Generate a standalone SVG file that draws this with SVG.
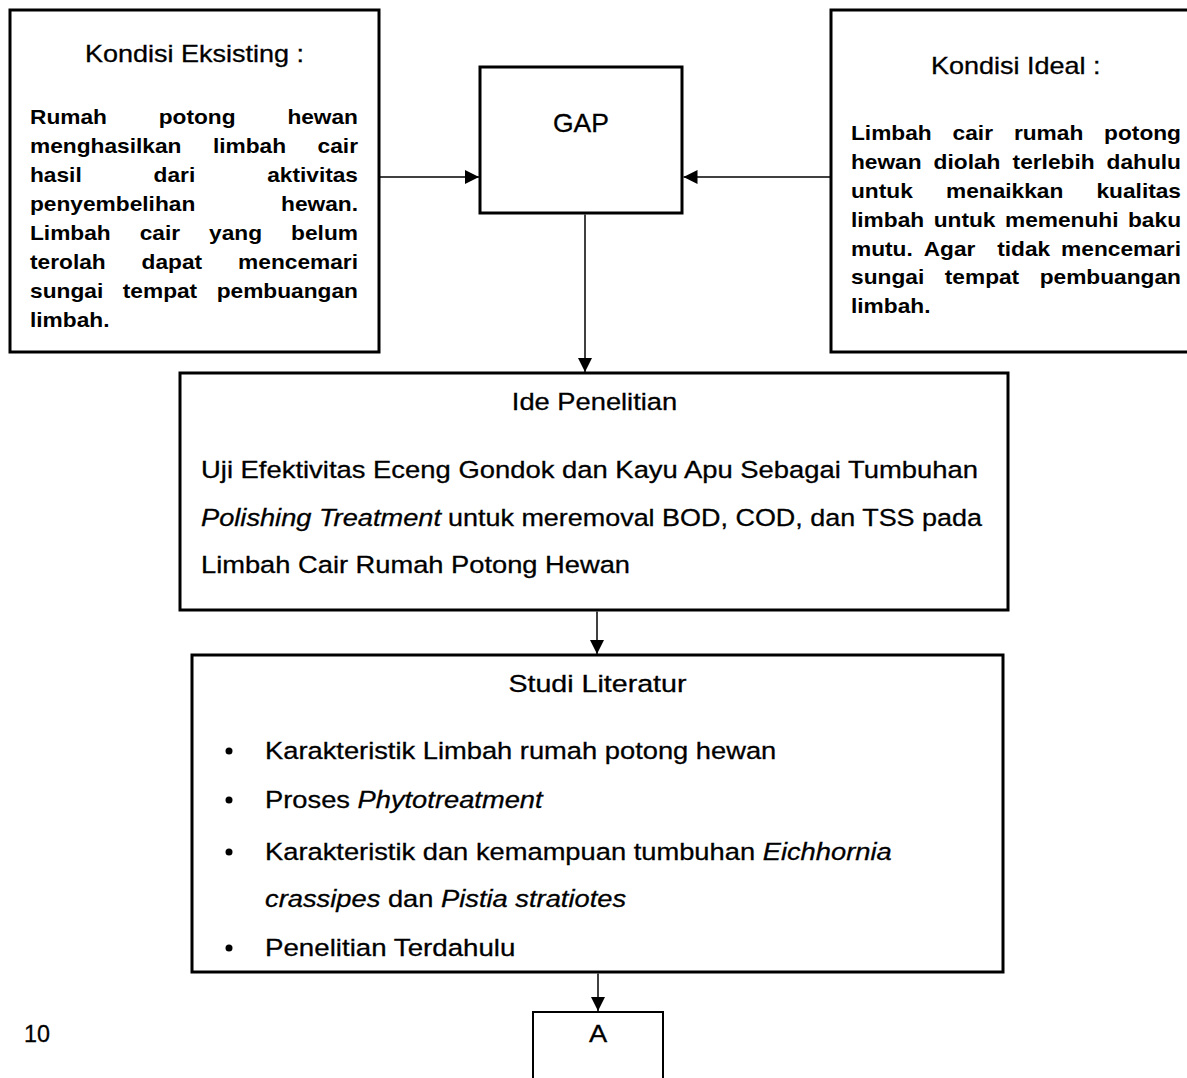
<svg xmlns="http://www.w3.org/2000/svg" width="1187" height="1078" viewBox="0 0 1187 1078">
<style>
.box{fill:#fff;stroke:#000;stroke-width:3}
.t{font-family:"Liberation Sans",Arial,sans-serif;font-size:24.5px;fill:#000;stroke:#000;stroke-width:0.3}
.h{font-size:24px}
.b{font-family:"Liberation Sans",Arial,sans-serif;font-size:21px;font-weight:bold;fill:#000}
.i{font-style:italic}
.c{stroke:#000;stroke-width:1.5;fill:none}
</style>
<defs>
<marker id="ah" viewBox="0 0 10 10" refX="10" refY="5" markerWidth="14" markerHeight="14" markerUnits="userSpaceOnUse" orient="auto">
<path d="M0,0 L10,5 L0,10 z" fill="#000"/>
</marker>
</defs>
<rect width="1187" height="1078" fill="#fff"/>

<g id="kondisi-eksisting">
<rect class="box" x="10" y="10" width="369" height="342"/>
<text class="t h" x="85" y="62" textLength="219" lengthAdjust="spacingAndGlyphs">Kondisi Eksisting :</text>
<g class="b">
<text x="30" y="124" textLength="76.9" lengthAdjust="spacingAndGlyphs">Rumah</text>
<text x="158.7" y="124" textLength="76.9" lengthAdjust="spacingAndGlyphs">potong</text>
<text x="287.4" y="124" textLength="70.6" lengthAdjust="spacingAndGlyphs">hewan</text>
<text x="30" y="153" textLength="151.4" lengthAdjust="spacingAndGlyphs">menghasilkan</text>
<text x="212.9" y="153" textLength="73.2" lengthAdjust="spacingAndGlyphs">limbah</text>
<text x="317.6" y="153" textLength="40.4" lengthAdjust="spacingAndGlyphs">cair</text>
<text x="30" y="182" textLength="51.7" lengthAdjust="spacingAndGlyphs">hasil</text>
<text x="153.6" y="182" textLength="41.6" lengthAdjust="spacingAndGlyphs">dari</text>
<text x="267.2" y="182" textLength="90.8" lengthAdjust="spacingAndGlyphs">aktivitas</text>
<text x="30" y="211" textLength="165.3" lengthAdjust="spacingAndGlyphs">penyembelihan</text>
<text x="281" y="211" textLength="77" lengthAdjust="spacingAndGlyphs">hewan.</text>
<text x="30" y="240" textLength="80.7" lengthAdjust="spacingAndGlyphs">Limbah</text>
<text x="139.7" y="240" textLength="40.4" lengthAdjust="spacingAndGlyphs">cair</text>
<text x="209.1" y="240" textLength="53" lengthAdjust="spacingAndGlyphs">yang</text>
<text x="291.1" y="240" textLength="66.9" lengthAdjust="spacingAndGlyphs">belum</text>
<text x="30" y="269" textLength="75.7" lengthAdjust="spacingAndGlyphs">terolah</text>
<text x="141.6" y="269" textLength="60.5" lengthAdjust="spacingAndGlyphs">dapat</text>
<text x="238.1" y="269" textLength="119.9" lengthAdjust="spacingAndGlyphs">mencemari</text>
<text x="30" y="298" textLength="73.2" lengthAdjust="spacingAndGlyphs">sungai</text>
<text x="122.8" y="298" textLength="74.4" lengthAdjust="spacingAndGlyphs">tempat</text>
<text x="216.7" y="298" textLength="141.3" lengthAdjust="spacingAndGlyphs">pembuangan</text>
<text x="30" y="327" textLength="79.5" lengthAdjust="spacingAndGlyphs">limbah.</text>
</g>
</g>

<g id="gap">
<rect class="box" x="480" y="67" width="202" height="146"/>
<text class="t" x="553" y="132" style="font-size:26px" textLength="56" lengthAdjust="spacingAndGlyphs">GAP</text>
</g>

<g id="kondisi-ideal">
<rect class="box" x="831" y="10" width="370" height="342"/>
<text class="t h" x="931" y="74" textLength="169.6" lengthAdjust="spacingAndGlyphs">Kondisi Ideal :</text>
<g class="b">
<text x="851" y="140" textLength="80.7" lengthAdjust="spacingAndGlyphs">Limbah</text>
<text x="952.6" y="140" textLength="40.4" lengthAdjust="spacingAndGlyphs">cair</text>
<text x="1013.9" y="140" textLength="69.4" lengthAdjust="spacingAndGlyphs">rumah</text>
<text x="1104.1" y="140" textLength="76.9" lengthAdjust="spacingAndGlyphs">potong</text>
<text x="851" y="169" textLength="70.6" lengthAdjust="spacingAndGlyphs">hewan</text>
<text x="933.6" y="169" textLength="66.9" lengthAdjust="spacingAndGlyphs">diolah</text>
<text x="1012.6" y="169" textLength="82" lengthAdjust="spacingAndGlyphs">terlebih</text>
<text x="1106.6" y="169" textLength="74.4" lengthAdjust="spacingAndGlyphs">dahulu</text>
<text x="851" y="198" textLength="61.8" lengthAdjust="spacingAndGlyphs">untuk</text>
<text x="946" y="198" textLength="117.3" lengthAdjust="spacingAndGlyphs">menaikkan</text>
<text x="1096.5" y="198" textLength="84.5" lengthAdjust="spacingAndGlyphs">kualitas</text>
<text x="851" y="227" textLength="73.2" lengthAdjust="spacingAndGlyphs">limbah</text>
<text x="933.7" y="227" textLength="61.8" lengthAdjust="spacingAndGlyphs">untuk</text>
<text x="1005" y="227" textLength="113.5" lengthAdjust="spacingAndGlyphs">memenuhi</text>
<text x="1128" y="227" textLength="53" lengthAdjust="spacingAndGlyphs">baku</text>
<text x="851" y="256" textLength="61.8" lengthAdjust="spacingAndGlyphs">mutu.</text>
<text x="923.7" y="256" textLength="51.7" lengthAdjust="spacingAndGlyphs">Agar</text>
<text x="997.2" y="256" textLength="53" lengthAdjust="spacingAndGlyphs">tidak</text>
<text x="1061.1" y="256" textLength="119.9" lengthAdjust="spacingAndGlyphs">mencemari</text>
<text x="851" y="284" textLength="73.2" lengthAdjust="spacingAndGlyphs">sungai</text>
<text x="944.8" y="284" textLength="74.4" lengthAdjust="spacingAndGlyphs">tempat</text>
<text x="1039.7" y="284" textLength="141.3" lengthAdjust="spacingAndGlyphs">pembuangan</text>
<text x="851" y="313" textLength="79.5" lengthAdjust="spacingAndGlyphs">limbah.</text>
</g>
</g>

<g id="ide-penelitian">
<rect class="box" x="180" y="373" width="828" height="237"/>
<text class="t" x="511.8" y="410" textLength="165.4" lengthAdjust="spacingAndGlyphs">Ide Penelitian</text>
<text class="t" x="201" y="478" textLength="777" lengthAdjust="spacingAndGlyphs">Uji Efektivitas Eceng Gondok dan Kayu Apu Sebagai Tumbuhan</text>
<text class="t i" x="201" y="526" textLength="240" lengthAdjust="spacingAndGlyphs">Polishing Treatment</text>
<text class="t" x="448" y="526" textLength="534" lengthAdjust="spacingAndGlyphs">untuk meremoval BOD, COD, dan TSS pada</text>
<text class="t" x="201" y="573" textLength="429" lengthAdjust="spacingAndGlyphs">Limbah Cair Rumah Potong Hewan</text>
</g>

<g id="studi-literatur">
<rect class="box" x="192" y="655" width="811" height="317"/>
<text class="t" x="508.4" y="692" textLength="178.1" lengthAdjust="spacingAndGlyphs">Studi Literatur</text>
<circle cx="229" cy="751" r="3.5"/>
<circle cx="229" cy="800" r="3.5"/>
<circle cx="229" cy="852" r="3.5"/>
<circle cx="229" cy="948" r="3.5"/>
<text class="t" x="265" y="759" textLength="511.3" lengthAdjust="spacingAndGlyphs">Karakteristik Limbah rumah potong hewan</text>
<text class="t" x="265" y="808" textLength="85" lengthAdjust="spacingAndGlyphs">Proses</text>
<text class="t i" x="357.5" y="808" textLength="185.1" lengthAdjust="spacingAndGlyphs">Phytotreatment</text>
<text class="t" x="265" y="860" textLength="490.1" lengthAdjust="spacingAndGlyphs">Karakteristik dan kemampuan tumbuhan</text>
<text class="t i" x="762.7" y="860" textLength="129" lengthAdjust="spacingAndGlyphs">Eichhornia</text>
<text class="t i" x="265" y="907" textLength="115.3" lengthAdjust="spacingAndGlyphs">crassipes</text>
<text class="t" x="387.9" y="907" textLength="45.5" lengthAdjust="spacingAndGlyphs">dan</text>
<text class="t i" x="441" y="907" textLength="185.1" lengthAdjust="spacingAndGlyphs">Pistia stratiotes</text>
<text class="t" x="265" y="956" textLength="250.4" lengthAdjust="spacingAndGlyphs">Penelitian Terdahulu</text>
</g>

<g id="a-connector">
<rect x="533" y="1012" width="130" height="80" fill="#fff" stroke="#000" stroke-width="2"/>
<text class="t" x="588.9" y="1042" textLength="18.2" lengthAdjust="spacingAndGlyphs">A</text>
</g>

<g id="page-number">
<text class="t" x="24" y="1042" textLength="26" lengthAdjust="spacingAndGlyphs">10</text>
</g>

<g id="connectors">
<line class="c" x1="380" y1="177" x2="479" y2="177" marker-end="url(#ah)"/>
<line class="c" x1="830" y1="177" x2="683.5" y2="177" marker-end="url(#ah)"/>
<line class="c" x1="585" y1="214.5" x2="585" y2="372" marker-end="url(#ah)"/>
<line class="c" x1="597" y1="611.5" x2="597" y2="654" marker-end="url(#ah)"/>
<line class="c" x1="598" y1="973.5" x2="598" y2="1011" marker-end="url(#ah)"/>
</g>
</svg>
